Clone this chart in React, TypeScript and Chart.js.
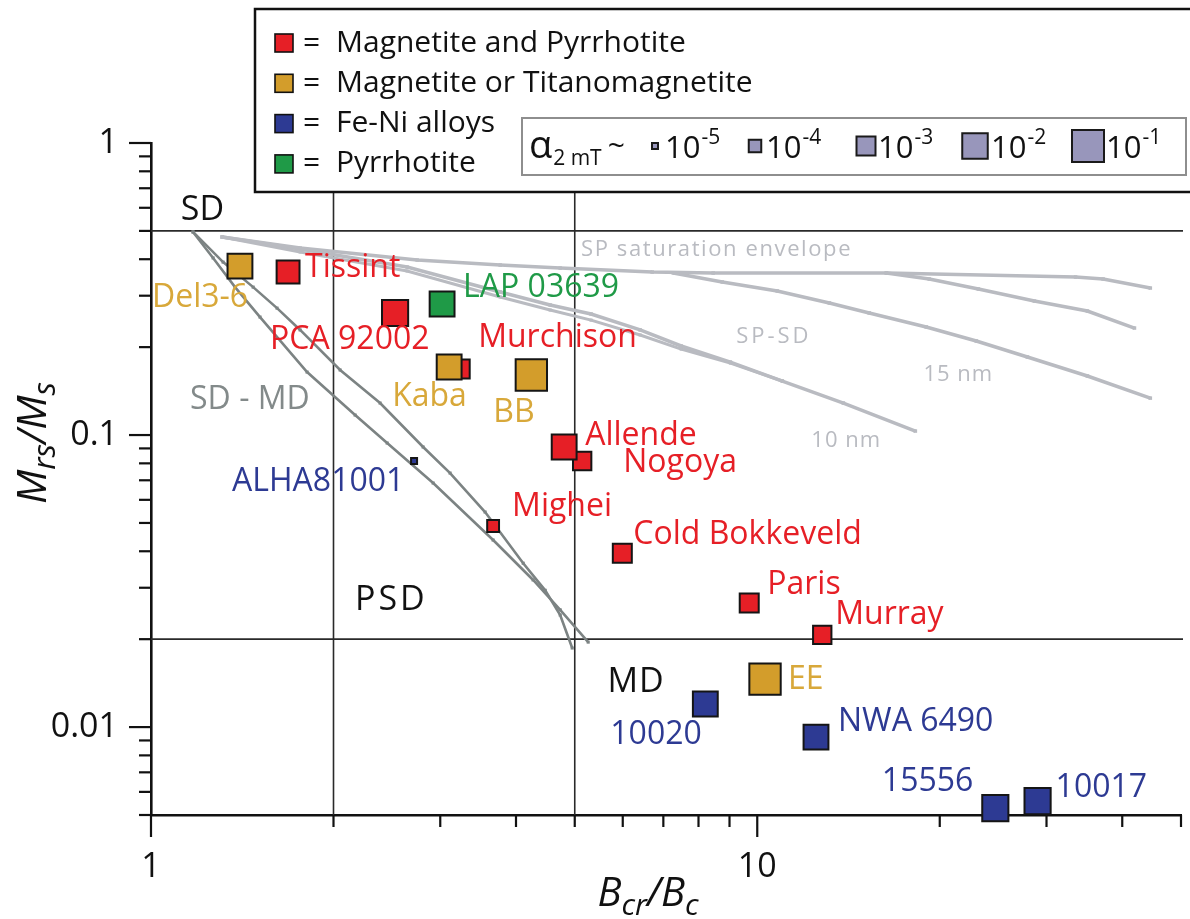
import React, { useEffect, useRef } from "react";
import { Chart, registerables } from "chart.js";

Chart.register(...registerables);

const FONT = '"Open Sans", "Noto Sans", "DejaVu Sans", sans-serif';

// ---------------- data ----------------
// Magnetite and Pyrrhotite (red)
const redNames = ["Tissint", "PCA 92002", "Murchison", "Nogoya", "Allende", "Mighei", "Cold Bokkeveld", "Paris", "Murray"];
const redBcrBc = [1.683, 2.527, 3.236, 5.143, 4.803, 3.667, 5.99, 9.7, 12.8];
const redMrsMs = [0.3615, 0.2618, 0.1683, 0.0815, 0.091, 0.0488, 0.0394, 0.0266, 0.0207];
const redAlphaExp = [-2.4, -1.9, -3.0, -3.1, -2.1, -4.1, -3.0, -3.0, -3.1];

// Magnetite or Titanomagnetite (gold)
const goldNames = ["Del3-6", "Kaba", "BB", "EE"];
const goldBcrBc = [1.402, 3.103, 4.24, 10.3];
const goldMrsMs = [0.379, 0.171, 0.1605, 0.0146];
const goldAlphaExp = [-2.1, -2.1, -1.1, -1.1];

// Fe-Ni alloys (blue)
const blueNames = ["ALHA81001", "10020", "NWA 6490", "15556", "10017"];
const blueBcrBc = [2.716, 8.21, 12.5, 24.7, 29.0];
const blueMrsMs = [0.0815, 0.012, 0.00924, 0.00528, 0.00558];
const blueAlphaExp = [-5, -2.1, -2.1, -1.9, -1.9];

// Pyrrhotite (green)
const greenNames = ["LAP 03639"];
const greenBcrBc = [3.021];
const greenMrsMs = [0.281];
const greenAlphaExp = [-2.1];

// SD-MD mixing curves
const sdmd1X = [1.173, 1.315, 1.474, 1.614, 1.762, 2.051, 2.387, 2.811, 3.114, 3.557, 4.111, 4.469, 4.731, 4.952];
const sdmd1Y = [0.496, 0.391, 0.321, 0.272, 0.229, 0.167, 0.1287, 0.091, 0.0741, 0.0545, 0.0364, 0.0294, 0.0242, 0.01865];
const sdmd2X = [1.173, 1.266, 1.376, 1.513, 1.809, 2.171, 2.452, 2.92, 3.667, 4.269, 4.731, 5.262];
const sdmd2Y = [0.496, 0.404, 0.321, 0.2535, 0.1643, 0.1171, 0.0939, 0.0685, 0.0437, 0.0319, 0.0252, 0.01954];

// SP curves
const envX = [1.31, 1.762, 2.748, 3.767, 4.731, 6.71, 8.46, 16.33, 33.5, 37.2, 44.5];
const envY = [0.4765, 0.437, 0.3976, 0.382, 0.373, 0.3615, 0.3587, 0.3587, 0.3475, 0.342, 0.3187];
const spTopX = [16.33, 19.22, 23.16, 28.65, 35.04, 41.9];
const spTopY = [0.3587, 0.342, 0.3162, 0.2876, 0.2658, 0.2325];
const sp15X = [7.27, 8.756, 10.79, 13.15, 15.3, 19.0, 22.98, 27.9, 35.04, 44.5];
const sp15Y = [0.3587, 0.3342, 0.3113, 0.2833, 0.2618, 0.2344, 0.2099, 0.185, 0.1593, 0.1338];
const sp10X = [1.31, 1.762, 2.645, 3.767, 4.554, 5.32, 6.41, 7.49, 9.03, 11.0, 13.87, 18.23];
const sp10Y = [0.4765, 0.4335, 0.376, 0.3089, 0.2788, 0.2597, 0.229, 0.2018, 0.1778, 0.1531, 0.1287, 0.1032];
const sp10bX = [1.31, 1.762, 2.645, 3.767, 4.554, 5.32, 6.41, 7.49, 9.03, 11.0];
const sp10bY = [0.4765, 0.4233, 0.3645, 0.297, 0.268, 0.2475, 0.2201, 0.197, 0.1764, 0.1531];

// axes
const xTickValues = [1, 2, 3, 4, 5, 6, 7, 8, 9, 10, 20, 30, 40, 50];
const xTickLabels = ["1", "", "", "", "", "", "", "", "", "10", "", "", "", ""];
const yTickValues = [0.005, 0.006, 0.007, 0.008, 0.009, 0.01, 0.02, 0.03, 0.04, 0.05, 0.06, 0.07, 0.08, 0.09, 0.1, 0.2, 0.3, 0.4, 0.5, 0.6, 0.7, 0.8, 0.9, 1];
const yTickLabels = ["", "", "", "", "", "0.01", "", "", "", "", "", "", "", "", "0.1", "", "", "", "", "", "", "", "", "1"];

// domain boundary lines
const refBcrBc = [2, 5];
const refMrsMs = [0.5, 0.02];

// region annotations
const regionText = ["SD", "PSD", "MD", "SD - MD", "SP saturation envelope", "SP-SD", "15 nm", "10 nm"];
const regionBcrBc = [1.12, 2.17, 5.66, 1.16, 5.12, 9.23, 18.8, 12.28];
const regionMrsMs = [0.59, 0.0272, 0.01426, 0.1318, 0.43, 0.2166, 0.1605, 0.0954];

// legend
const legendLabels = ["Magnetite and Pyrrhotite", "Magnetite or Titanomagnetite", "Fe-Ni alloys", "Pyrrhotite"];
const alphaLegendExp = [-5, -4, -3, -2, -1];

// ---------------- styles ----------------
const RED = "#e61f26";
const GOLD = "#d39d2b";
const BLUE = "#2d3a93";
const GREEN = "#1f9a47";
const GOLD_TEXT = "#d8a83a";
const SDMD_GRAY = "#7c8383";
const SP_GRAY = "#b9bbc1";
const legendColors = [RED, GOLD, BLUE, GREEN];

const regionStyle: [number, string, number][] = [
  [34, "#111", 0],
  [34, "#111", 3],
  [34, "#111", 1],
  [32, "#838a8a", 0],
  [22, SP_GRAY, 1.6],
  [22, SP_GRAY, 3],
  [22, SP_GRAY, 1],
  [22, SP_GRAY, 1],
];

const labelOffsets: Record<string, [number, number, CanvasTextAlign]> = {
  "Del3-6": [-88, 32, "left"],
  Tissint: [17, -4, "left"],
  "PCA 92002": [-125, 27, "left"],
  "LAP 03639": [21, -16, "left"],
  Kaba: [-57, 30, "left"],
  Murchison: [18, -31, "left"],
  BB: [-38, 38, "left"],
  Allende: [21, -11, "left"],
  Nogoya: [41, 2, "left"],
  ALHA81001: [-182, 21, "left"],
  Mighei: [19, -19, "left"],
  "Cold Bokkeveld": [11, -18, "left"],
  Paris: [18, -18, "left"],
  Murray: [13, -20, "left"],
  EE: [23, 1, "left"],
  "10020": [-95, 31, "left"],
  "NWA 6490": [22, -15, "left"],
  "15556": [-22, -26, "right"],
  "10017": [18, -13, "left"],
};

function sideOf(e: number) {
  return 34 + (e + 1) * 6.5;
}
function isDecade(v: number) {
  const l = Math.log10(v);
  return Math.abs(l - Math.round(l)) < 1e-9;
}

const groups = [
  { names: goldNames, xs: goldBcrBc, ys: goldMrsMs, ex: goldAlphaExp, fill: GOLD, text: GOLD_TEXT },
  { names: redNames, xs: redBcrBc, ys: redMrsMs, ex: redAlphaExp, fill: RED, text: RED },
  { names: blueNames, xs: blueBcrBc, ys: blueMrsMs, ex: blueAlphaExp, fill: BLUE, text: BLUE },
  { names: greenNames, xs: greenBcrBc, ys: greenMrsMs, ex: greenAlphaExp, fill: GREEN, text: GREEN },
];

type Part = { t: string; size: number; dy?: number; italic?: boolean; dx?: number };
function drawParts(ctx: CanvasRenderingContext2D, parts: Part[], x: number, y: number, color: string, align: "left" | "center" = "left") {
  ctx.textAlign = "left";
  ctx.textBaseline = "alphabetic";
  ctx.fillStyle = color;
  const fontOf = (p: Part) => `${p.italic ? "italic " : ""}${p.size}px ${FONT}`;
  const widths = parts.map((p) => {
    ctx.font = fontOf(p);
    return ctx.measureText(p.t).width + (p.dx || 0);
  });
  const total = widths.reduce((a, b) => a + b, 0);
  let cx = align === "center" ? x - total / 2 : x;
  parts.forEach((p, i) => {
    ctx.font = fontOf(p);
    ctx.fillText(p.t, cx + (p.dx || 0), y + (p.dy || 0));
    cx += widths[i];
  });
}

const overlayPlugin = {
  id: "overlay",
  beforeDatasetsDraw(chart: any) {
    const { ctx, chartArea: a, scales } = chart;
    const sx = scales.x;
    const sy = scales.y;
    ctx.save();
    ctx.strokeStyle = "#2a2a2a";
    ctx.lineWidth = 1.6;
    for (const v of refMrsMs) {
      const py = sy.getPixelForValue(v);
      ctx.beginPath();
      ctx.moveTo(a.left, py);
      ctx.lineTo(a.right + 2, py);
      ctx.stroke();
    }
    for (const v of refBcrBc) {
      const px = sx.getPixelForValue(v);
      ctx.beginPath();
      ctx.moveTo(px, a.top);
      ctx.lineTo(px, a.bottom);
      ctx.stroke();
    }
    ctx.strokeStyle = "#111";
    ctx.lineWidth = 2.2;
    for (const v of yTickValues) {
      const py = sy.getPixelForValue(v);
      const len = isDecade(v) ? 22 : 12;
      ctx.beginPath();
      ctx.moveTo(a.left - len, py);
      ctx.lineTo(a.left, py);
      ctx.stroke();
    }
    for (const v of xTickValues) {
      const px = sx.getPixelForValue(v);
      const len = isDecade(v) ? 22 : 12;
      ctx.beginPath();
      ctx.moveTo(px, a.bottom);
      ctx.lineTo(px, a.bottom + len);
      ctx.stroke();
    }
    ctx.restore();
  },
  afterDatasetsDraw(chart: any) {
    const { ctx, scales } = chart;
    const sx = scales.x;
    const sy = scales.y;
    ctx.save();

    // region annotations
    ctx.textBaseline = "middle";
    ctx.textAlign = "left";
    regionText.forEach((t, i) => {
      const [size, color, spacing] = regionStyle[i];
      ctx.font = `${size}px ${FONT}`;
      (ctx as any).letterSpacing = `${spacing}px`;
      ctx.fillStyle = color;
      ctx.fillText(t, sx.getPixelForValue(regionBcrBc[i]), sy.getPixelForValue(regionMrsMs[i]));
    });
    (ctx as any).letterSpacing = "0px";

    // sample labels
    ctx.font = `32px ${FONT}`;
    ctx.textBaseline = "middle";
    for (const g of groups) {
      g.names.forEach((n, j) => {
        const off = labelOffsets[n] || [15, 0, "left"];
        ctx.textAlign = off[2];
        ctx.fillStyle = g.text;
        ctx.fillText(n, sx.getPixelForValue(g.xs[j]) + off[0], sy.getPixelForValue(g.ys[j]) + off[1]);
      });
    }

    // legend box
    ctx.fillStyle = "#fff";
    ctx.fillRect(255, 9, 945, 183);
    ctx.strokeStyle = "#111";
    ctx.lineWidth = 2.5;
    ctx.strokeRect(255, 9, 945, 183);
    legendLabels.forEach((lab, i) => {
      const cy = 43 + i * 40.3;
      ctx.fillStyle = legendColors[i];
      ctx.fillRect(275, cy - 9, 18, 18);
      ctx.strokeStyle = "#111";
      ctx.lineWidth = 1.6;
      ctx.strokeRect(275, cy - 9, 18, 18);
      ctx.fillStyle = "#111";
      ctx.font = `30px ${FONT}`;
      ctx.textAlign = "left";
      ctx.textBaseline = "middle";
      ctx.fillText("=", 303, cy);
      ctx.fillText(lab, 336, cy);
    });

    // alpha legend
    ctx.fillStyle = "#fff";
    ctx.fillRect(522, 118, 664, 57);
    ctx.strokeStyle = "#8e8e8e";
    ctx.lineWidth = 2;
    ctx.strokeRect(522, 118, 664, 57);
    drawParts(ctx, [{ t: "α", size: 38 }, { t: "2 mT", size: 21, dy: 7, dx: 1 }, { t: "~", size: 30, dx: 6, dy: -2 }], 529, 158, "#111");
    const sqX = [655, 755, 866, 975, 1088];
    const txX = [665, 766, 878, 991, 1106];
    alphaLegendExp.forEach((e, i) => {
      const s = sideOf(e) - 2;
      ctx.fillStyle = "#9896bb";
      ctx.fillRect(sqX[i] - s / 2, 146 - s / 2, s, s);
      ctx.strokeStyle = "#1a1a1a";
      ctx.lineWidth = 2;
      ctx.strokeRect(sqX[i] - s / 2, 146 - s / 2, s, s);
      drawParts(ctx, [{ t: "10", size: 31 }, { t: String(e), size: 21, dy: -14, dx: 1 }], txX[i], 158, "#111");
    });

    // axis titles
    drawParts(
      ctx,
      [
        { t: "B", size: 40, italic: true },
        { t: "cr", size: 30, italic: true, dy: 9 },
        { t: "/B", size: 40, italic: true },
        { t: "c", size: 30, italic: true, dy: 9 },
      ],
      648,
      906,
      "#111",
      "center"
    );
    ctx.save();
    ctx.translate(46, 443);
    ctx.rotate(-Math.PI / 2);
    drawParts(
      ctx,
      [
        { t: "M", size: 41, italic: true },
        { t: "rs", size: 31, italic: true, dy: 9 },
        { t: "/M", size: 41, italic: true },
        { t: "s", size: 31, italic: true, dy: 9 },
      ],
      0,
      0,
      "#111",
      "center"
    );
    ctx.restore();

    ctx.restore();
  },
};

export default function App() {
  const ref = useRef<HTMLCanvasElement | null>(null);
  useEffect(() => {
    if (!ref.current) return;
    const pointDs = groups.map((g) => ({
      label: g.names.join(","),
      data: g.names.map((_, j) => ({ x: g.xs[j], y: g.ys[j] })),
      pointStyle: "rect",
      pointRadius: g.ex.map((e) => (sideOf(e) - 2) / Math.SQRT2),
      backgroundColor: g.fill,
      borderColor: "#151515",
      borderWidth: 2,
      showLine: false,
      clip: false,
    }));
    const curve = (xs: number[], ys: number[], color: string, w: number, r: number) => ({
      label: "curve",
      data: xs.map((x, i) => ({ x, y: ys[i] })),
      showLine: true,
      borderColor: color,
      borderWidth: w,
      pointStyle: "rect",
      pointRadius: r,
      pointBackgroundColor: color,
      pointBorderColor: color,
      pointBorderWidth: 0,
      tension: 0,
      fill: false,
    });
    const datasets: any[] = [
      ...pointDs,
      curve(sdmd1X, sdmd1Y, SDMD_GRAY, 2.6, 2.2),
      curve(sdmd2X, sdmd2Y, SDMD_GRAY, 2.6, 2.2),
      curve(envX, envY, SP_GRAY, 3.5, 2.5),
      curve(spTopX, spTopY, SP_GRAY, 3.5, 2.5),
      curve(sp15X, sp15Y, SP_GRAY, 3.5, 2.5),
      curve(sp10X, sp10Y, SP_GRAY, 3.5, 2.5),
      curve(sp10bX, sp10bY, SP_GRAY, 3, 2.2),
    ];
    const chart = new Chart(ref.current, {
      type: "scatter",
      data: { datasets },
      options: {
        responsive: false,
        animation: false,
        devicePixelRatio: 1,
        events: [],
        layout: { autoPadding: false, padding: { left: 0, right: 9, top: 143, bottom: 0 } },
        plugins: { legend: { display: false }, tooltip: { enabled: false } },
        scales: {
          x: {
            type: "logarithmic",
            position: "bottom",
            min: 1,
            max: 50,
            grid: { display: false, drawTicks: false },
            border: { display: true, color: "#111", width: 2.6 },
            afterBuildTicks: (s: any) => {
              s.ticks = xTickValues.map((v) => ({ value: v }));
            },
            afterFit: (s: any) => {
              s.height = 104;
              s.paddingLeft = 0;
              s.paddingRight = 0;
            },
            ticks: {
              autoSkip: false,
              maxRotation: 0,
              padding: 32,
              color: "#111",
              font: { family: FONT, size: 34 },
              callback: (_v: any, i: number) => xTickLabels[i],
            },
          },
          y: {
            type: "logarithmic",
            position: "left",
            min: 0.005,
            max: 1,
            grid: { display: false, drawTicks: false },
            border: { display: true, color: "#111", width: 2.6 },
            afterBuildTicks: (s: any) => {
              s.ticks = yTickValues.map((v) => ({ value: v }));
            },
            afterFit: (s: any) => {
              s.width = 151;
              s.paddingTop = 0;
              s.paddingBottom = 0;
            },
            ticks: {
              autoSkip: false,
              padding: 33,
              color: "#111",
              font: { family: FONT, size: 34 },
              callback: (_v: any, i: number) => yTickLabels[i],
            },
          },
        },
      } as any,
      plugins: [overlayPlugin],
    });
    return () => chart.destroy();
  }, []);
  return (
    <div style={{ position: "absolute", left: 0, top: 0, width: 1190, height: 919, background: "#fff" }}>
      <canvas ref={ref} width={1190} height={919} style={{ width: 1190, height: 919, display: "block" }} />
    </div>
  );
}
